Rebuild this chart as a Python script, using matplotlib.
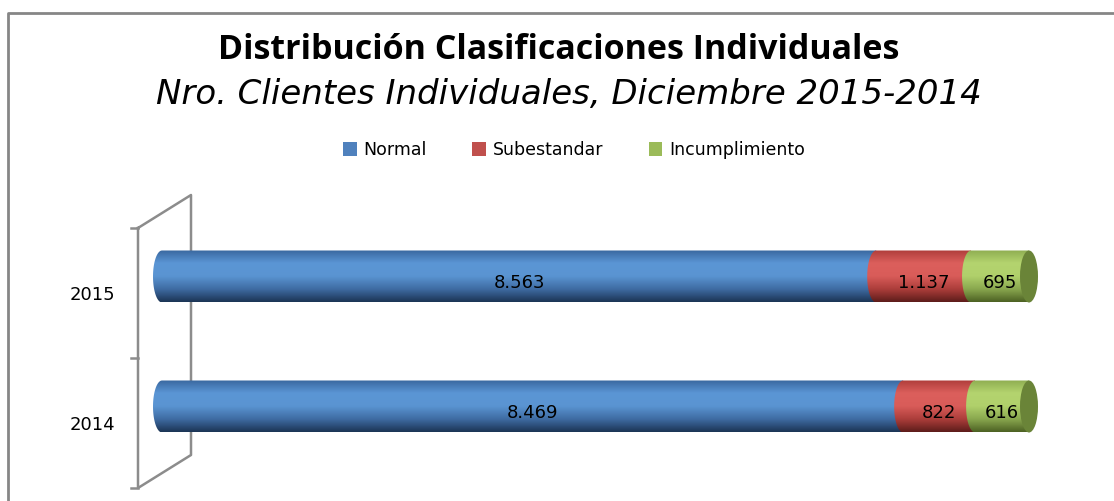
import numpy as np
import matplotlib
matplotlib.use("Agg")
import matplotlib.pyplot as plt
from matplotlib.colors import LinearSegmentedColormap
from matplotlib.patches import PathPatch, Ellipse, Patch
from matplotlib.path import Path
from matplotlib.lines import Line2D
from matplotlib.transforms import ScaledTranslation

# datos
years = ["2014", "2015"]
series = ["Normal", "Subestandar", "Incumplimiento"]
normal = [8469, 8563]
subestandar = [822, 1137]
incumplimiento = [616, 695]

legend_colors = ["#4F81BD", "#C0504D", "#9BBB59"]
# degradado cilindro: arriba -> abajo
grads = [
    ["#3a68a0", "#5b96d5", "#5a94d2", "#3f6ca3", "#1c3556"],
    ["#b03e3b", "#dc5f5c", "#d95c59", "#ad3e3b", "#5e1d1b"],
    ["#8fae52", "#b4d46f", "#b0d06b", "#8aa84f", "#4d6224"],
]
end_color = "#6a8438"

W, H = 1114, 501
fig = plt.figure(figsize=(W / 100, H / 100), dpi=100)

def fx(px):
    return px / W

def fy(py):
    return 1 - py / H

# borde del area del grafico
fig.add_artist(Line2D([fx(8), fx(8), fx(1114)], [fy(505), fy(13), fy(13)],
                      transform=fig.transFigure, color="#868686", lw=2))

fig.text(fx(559), fy(50), "Distribución Clasificaciones Individuales",
         ha="center", va="center", fontsize=24.5, fontweight="bold",
         family="Open Sans")
fig.text(fx(569), fy(95), "Nro. Clientes Individuales, Diciembre 2015-2014",
         ha="center", va="center", fontsize=24.5, style="italic",
         family="DejaVu Sans")

handles = [Patch(facecolor=c, edgecolor="none") for c in legend_colors]
fig.legend(handles, series, loc="center", bbox_to_anchor=(fx(574), fy(150)),
           ncol=3, frameon=False, fontsize=12.5, handlelength=0.8,
           handleheight=0.8, handletextpad=0.4, columnspacing=2.6)

# ejes: x = 0..1 (100% apilado)
x0, x1 = 162, 1029
ppu = x1 - x0
m = 0.03
ytop, ybot = 211.5, 471.5
ax = fig.add_axes([fx(x0 - m * ppu), fy(ybot), fx(ppu * (1 + 2 * m)),
                   (ybot - ytop) / H])
ax.patch.set_visible(False)
ax.set_xlim(-m, 1 + m)
ax.set_ylim(-0.5, 1.5)
for s in ax.spines.values():
    s.set_visible(False)
ax.set_xticks([])
ax.set_yticks([0, 1])
ax.set_yticklabels(years, fontsize=13, family="DejaVu Sans")
ax.tick_params(axis="y", length=0, pad=0)
off = ScaledTranslation(-(x0 - 115 - m * ppu) / 100, -17 / 100,
                        fig.dpi_scale_trans)
for lab in ax.get_yticklabels():
    lab.set_transform(lab.get_transform() + off)

# pared 3D
wall = "#8c8c8c"
fig.add_artist(Line2D([fx(138), fx(191), fx(191), fx(138), fx(138)],
                      [fy(228), fy(195), fy(455), fy(488), fy(228)],
                      transform=fig.transFigure, color=wall, lw=1.8,
                      zorder=-1))
for ty in [228, 358, 488]:
    fig.add_artist(Line2D([fx(131), fx(138)], [fy(ty), fy(ty)],
                          transform=fig.transFigure, color=wall, lw=1.8,
                          zorder=-1))

bar_h = 0.4
rx = 9 / ppu   # semi-eje de la elipse en unidades x


def segment_path(a, b, yc):
    t = np.linspace(np.pi / 2, 3 * np.pi / 2, 40)
    xs = a + rx * np.cos(t)
    ys = yc + bar_h / 2 * np.sin(t)
    verts = list(zip(xs, ys)) + [(b, yc - bar_h / 2), (b, yc + bar_h / 2),
                                 (a, yc + bar_h / 2)]
    codes = [Path.MOVETO] + [Path.LINETO] * (len(verts) - 2) + [Path.CLOSEPOLY]
    return Path(verts, codes)


vals = np.array([normal, subestandar, incumplimiento], dtype=float)
totals = vals.sum(axis=0)
for j in range(len(years)):
    yc = j
    left = 0.0
    for i in range(3):
        frac = vals[i, j] / totals[j]
        right = left + frac
        cmap = LinearSegmentedColormap.from_list("g%d" % i, grads[i])
        grad = np.linspace(0, 1, 100).reshape(-1, 1)
        im = ax.imshow(grad, cmap=cmap, aspect="auto",
                       extent=(left - rx, right, yc - bar_h / 2, yc + bar_h / 2),
                       origin="upper", zorder=2 + i, interpolation="bilinear")
        clip = PathPatch(segment_path(left, right, yc), transform=ax.transData,
                         facecolor="none", edgecolor="none")
        ax.add_patch(clip)
        im.set_clip_path(clip)
        lbl = f"{int(vals[i, j]):,}".replace(",", ".")
        ax.text((left + right) / 2, yc - 0.05, lbl, ha="center", va="center",
                fontsize=13, color="black", zorder=10)
        left = right
    ax.add_patch(Ellipse((1, yc), 2 * rx, bar_h, facecolor=end_color,
                         edgecolor="none", zorder=6))

ax.set_xlim(-m, 1 + m)
ax.set_ylim(-0.5, 1.5)
fig.savefig("out.png", dpi=100)
